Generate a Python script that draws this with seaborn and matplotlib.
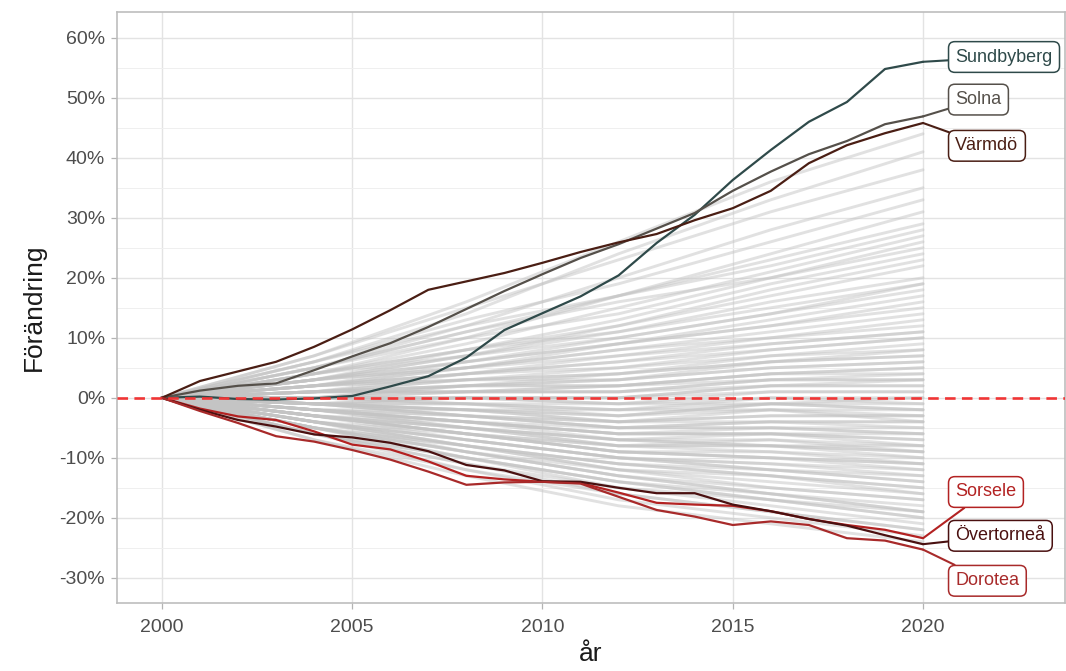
# -------------------------------------------
# importera bibliotek
import numpy as np
import pandas as pd
import matplotlib
matplotlib.use('Agg')
import matplotlib.pyplot as plt
import matplotlib.ticker as mticker
import seaborn as sns

# -------------------------------------------
# data (förändring i procent sedan år 2000)
years = list(range(2000, 2021))

sundbyberg = [0, 0.2, -0.2, -0.3, -0.1, 0.3, 1.9, 3.6, 6.7, 11.3, 14.1, 16.9, 20.4, 25.8, 30.5,
              36.3, 41.3, 46.0, 49.3, 54.8, 56.0]
solna = [0, 1.2, 2.0, 2.4, 4.6, 6.9, 9.1, 11.8, 14.8, 17.8, 20.6, 23.3, 25.6, 28.2, 30.8,
         34.5, 37.7, 40.6, 42.8, 45.6, 46.9]
varmdo = [0, 2.8, 4.4, 6.0, 8.5, 11.4, 14.6, 18.0, 19.4, 20.8, 22.5, 24.3, 25.9, 27.3, 29.6,
          31.6, 34.5, 39.1, 42.1, 44.1, 45.8]
sorsele = [0, -1.8, -3.1, -3.7, -5.6, -7.8, -8.6, -10.6, -13.0, -13.6, -14.0, -14.2, -15.8, -17.5,
           -17.8, -18.0, -18.9, -20.2, -21.2, -22.0, -23.4]
overtornea = [0, -2.0, -3.7, -4.8, -6.1, -6.6, -7.5, -8.9, -11.2, -12.1, -13.9, -14.0, -15.0, -15.9,
              -15.9, -17.8, -18.9, -20.2, -21.3, -22.9, -24.4]
dorotea = [0, -2.2, -4.2, -6.4, -7.3, -8.7, -10.3, -12.3, -14.5, -14.1, -14.0, -14.3, -16.5, -18.7,
           -19.8, -21.2, -20.6, -21.2, -23.4, -23.8, -25.3]

kommuner = ['Sundbyberg', 'Solna', 'Värmdö', 'Sorsele', 'Övertorneå', 'Dorotea']
serier = [sundbyberg, solna, varmdo, sorsele, overtornea, dorotea]
farger = ['#2f4a4a', '#55504a', '#4a1e14', '#b32222', '#4a1010', '#a82a2a']

# övriga kommuner (grå bakgrund), värden för 2004, 2008, 2012, 2016, 2020
gra_ar = [2000, 2004, 2008, 2012, 2016, 2020]
gra_linjer = [
    [7, 16, 26, 36, 44], [6, 14, 24, 33, 41], [7, 15, 23, 31, 38], [5, 12, 20, 28, 35],
    [6, 13, 19, 26, 33], [4, 10, 17, 24, 31], [5, 11, 17, 23, 29], [4, 9, 15, 21, 27],
    [5, 10, 14, 20, 26], [3, 8, 13, 19, 24], [4, 8, 12, 17, 22], [3, 7, 11, 16, 20],
    [4, 8, 11, 15, 19], [2, 6, 9, 13, 17], [3, 6, 9, 12, 15], [2, 5, 8, 11, 14],
    [3, 5, 7, 10, 12], [1, 4, 6, 9, 11], [2, 4, 6, 8, 10], [1, 3, 5, 7, 9],
    [2, 3, 4, 7, 8], [1, 2, 4, 6, 7], [0, 2, 3, 5, 6], [2, 3, 3, 5, 6],
    [1, 2, 2, 4, 5], [0, 1, 2, 4, 4], [1, 1, 1, 3, 3], [-1, 0, 0, 2, 2],
    [1, 1, 1, 2, 2], [0, 0, -1, 1, 1], [-1, -1, -2, 0, 0], [0, 0, -1, -1, 0],
    [-1, -2, -3, -1, -1], [0, -1, -2, -2, -2], [-1, -2, -4, -3, -3], [-2, -3, -4, -3, -3],
    [-1, -3, -5, -4, -4], [-2, -4, -5, -5, -5], [-1, -3, -5, -4, -5], [-2, -4, -6, -6, -6],
    [-2, -4, -6, -6, -7], [-2, -5, -7, -7, -8], [-3, -5, -8, -8, -8], [-3, -5, -7, -8, -9],
    [-3, -6, -8, -9, -10], [-3, -6, -9, -10, -11], [-4, -7, -10, -11, -12], [-3, -6, -9, -10, -12],
    [-4, -7, -10, -12, -13], [-4, -8, -11, -12, -14], [-5, -8, -11, -13, -15], [-4, -8, -12, -14, -16],
    [-5, -9, -12, -15, -17], [-5, -9, -13, -16, -18], [-6, -10, -14, -17, -19], [-5, -10, -14, -17, -20],
    [-6, -11, -15, -18, -21], [-6, -12, -16, -19, -22], [-7, -12, -17, -20, -23], [-7, -13, -18, -21, -24],
    [6, 12, 17, 22, 28], [5, 11, 16, 20, 25], [3, 7, 12, 18, 23], [4, 7, 10, 14, 18],
    [2, 5, 9, 12, 16], [3, 5, 8, 10, 13], [2, 4, 5, 8, 10], [1, 3, 4, 6, 8],
    [0, 2, 3, 6, 7], [1, 1, 2, 4, 5], [0, 1, 1, 3, 4], [-1, 0, 0, 2, 3],
    [0, 0, 0, 1, 1], [-1, -1, -1, 0, -1], [-1, -2, -2, -1, -2], [-2, -2, -3, -2, -3],
    [-1, -3, -4, -4, -4], [-2, -3, -5, -5, -6], [-2, -4, -6, -5, -6], [-3, -4, -6, -6, -7],
    [-2, -5, -7, -8, -9], [-3, -6, -8, -8, -10], [-3, -6, -9, -9, -11], [-4, -6, -9, -10, -11],
    [-3, -7, -10, -11, -13], [-4, -7, -10, -12, -14], [-4, -8, -11, -13, -15], [-5, -8, -12, -13, -16],
    [-4, -9, -13, -15, -17], [-5, -9, -13, -16, -19], [-6, -10, -14, -16, -19], [-5, -10, -15, -17, -20],
    [-6, -11, -16, -19, -22], [-1, -2, -4, -2, -4], [0, -1, -3, -1, -2], [-2, -4, -7, -6, -8],
    [-3, -5, -8, -7, -9], [1, 2, 2, 3, 3], [2, 4, 7, 9, 11], [3, 6, 10, 14, 19],
]

# -------------------------------------------
# bygg dataramar
df_gra = pd.DataFrame(
    [(i, ar, v) for i, linje in enumerate(gra_linjer) for ar, v in zip(gra_ar, [0] + linje)],
    columns=['id', 'år', 'förändring'])
df_hl = pd.DataFrame(
    [(k, ar, v) for k, s in zip(kommuner, serier) for ar, v in zip(years, s)],
    columns=['kommun', 'år', 'förändring'])

# -------------------------------------------
# stil
sns.set_theme(style='white')
plt.rcParams['font.family'] = ['Liberation Sans', 'DejaVu Sans']

fig = plt.figure(figsize=(10.66, 6.71), dpi=100)
ax = fig.add_axes([117 / 1066, 1 - 603 / 671, 948 / 1066, 591 / 671])

# grå linjer
sns.lineplot(data=df_gra, x='år', y='förändring', units='id', estimator=None,
             color='#c4c4c4', alpha=0.5, lw=2.1, ax=ax, legend=False, zorder=2)

# utvalda kommuner
sns.lineplot(data=df_hl, x='år', y='förändring', hue='kommun',
             palette=dict(zip(kommuner, farger)), lw=1.6, ax=ax, legend=False, zorder=3)

# nollinje
ax.axhline(0, color='#f03535', lw=1.9, ls=(0, (4, 2.4)), zorder=4)

# etiketter
etikett_y = [56.8, 49.7, 42.0, -15.7, -23.0, -30.5]
for k, s, c, ly in zip(kommuner, serier, farger, etikett_y):
    ax.annotate(k, xy=(2020, s[-1]), xytext=(2020.85, ly), ha='left', va='center',
                fontsize=13, color=c, zorder=5,
                bbox=dict(boxstyle='round,pad=0.38,rounding_size=0.35', fc='white', ec=c, lw=1.1),
                arrowprops=dict(arrowstyle='-', color=c, lw=1.5, shrinkA=0, shrinkB=0))

# axlar
ax.set_xlim(1998.82, 2023.73)
ax.set_ylim(-34.2, 64.3)
ax.set_xticks([2000, 2005, 2010, 2015, 2020])
ax.set_yticks(np.arange(-30, 61, 10))
ax.yaxis.set_minor_locator(mticker.FixedLocator(np.arange(-25, 61, 10)))
ax.yaxis.set_major_formatter(mticker.FuncFormatter(lambda v, p: f'{v:.0f}%'))

ax.grid(which='major', color='#e3e3e3', lw=1.0, zorder=0)
ax.grid(which='minor', axis='y', color='#efefef', lw=0.7, zorder=0)
ax.set_axisbelow(True)
for sp in ax.spines.values():
    sp.set_color('#bdbdbd')
    sp.set_linewidth(1.2)

ax.tick_params(axis='both', which='major', length=4.5, width=0.9, color='#b3b3b3',
               labelcolor='#4d4d4d', labelsize=14, left=True, bottom=True)
ax.tick_params(axis='x', pad=7)
ax.tick_params(axis='y', pad=4)
ax.tick_params(which='minor', length=0)

ax.set_xlabel('år', fontsize=19, color='#1a1a1a')
ax.set_ylabel('Förändring', fontsize=19, color='#1a1a1a')
ax.xaxis.set_label_coords(0.5, -0.066)
ax.yaxis.set_label_coords(-0.075, 0.5)

fig.savefig('out.png', dpi=100)
